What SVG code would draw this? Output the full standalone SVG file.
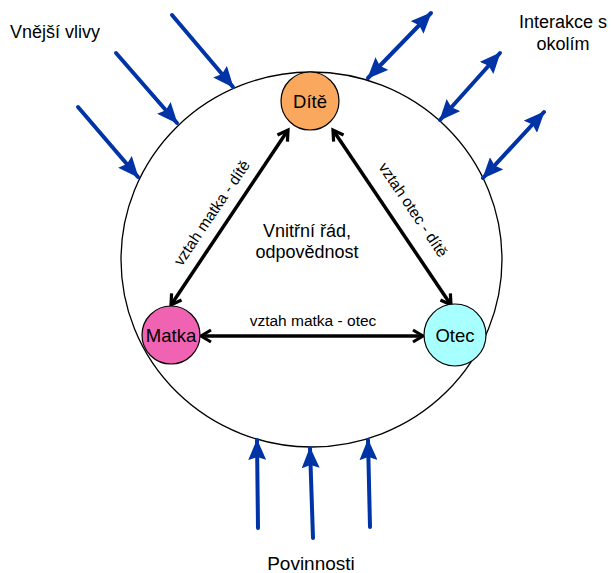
<svg xmlns="http://www.w3.org/2000/svg" width="611" height="573" viewBox="0 0 611 573">
<style>
text{font-family:"Liberation Sans",Arial,sans-serif;fill:#000}
.lbl{font-size:18px}
.rel{font-size:15.5px}
.node{font-size:18.5px}
.blk{stroke:#000;stroke-width:3.5;fill:none}
.blu{stroke:#0033A6;stroke-width:4;stroke-linecap:round;fill:none}
</style>
<defs>
<marker id="chev" markerUnits="userSpaceOnUse" markerWidth="16" markerHeight="16" viewBox="0 0 16 16" refX="13" refY="8" orient="auto-start-reverse">
<path d="M3,2 L13,8 L3,14" fill="none" stroke="#000" stroke-width="3.2" stroke-linejoin="miter"/>
</marker>
<marker id="tri" markerUnits="userSpaceOnUse" markerWidth="21" markerHeight="18" viewBox="0 0 21 18" refX="20" refY="9" orient="auto-start-reverse">
<path d="M0,0 L21,9 L0,18 L3,9 z" fill="#0033A6"/>
</marker>
</defs>
<rect width="611" height="573" fill="#fff"/>
<g id="family">
<ellipse cx="311.5" cy="259.5" rx="190.5" ry="187.5" fill="#fff" stroke="#000" stroke-width="1.3"/>
</g>
<g id="connectors">
<line class="blk" x1="288" y1="130" x2="171" y2="305" marker-start="url(#chev)" marker-end="url(#chev)"/>
<line class="blk" x1="333" y1="130" x2="451" y2="305" marker-start="url(#chev)" marker-end="url(#chev)"/>
<line class="blk" x1="201" y1="336" x2="423" y2="336" marker-start="url(#chev)" marker-end="url(#chev)"/>
<line class="blu" x1="172" y1="15" x2="233" y2="87" marker-end="url(#tri)"/>
<line class="blu" x1="116" y1="53" x2="177" y2="123" marker-end="url(#tri)"/>
<line class="blu" x1="78" y1="107" x2="138" y2="177" marker-end="url(#tri)"/>
<line class="blu" x1="368" y1="78" x2="431" y2="13" marker-start="url(#tri)" marker-end="url(#tri)"/>
<line class="blu" x1="440" y1="120" x2="500" y2="53" marker-start="url(#tri)" marker-end="url(#tri)"/>
<line class="blu" x1="483" y1="178" x2="544" y2="112" marker-start="url(#tri)" marker-end="url(#tri)"/>
<line class="blu" x1="258" y1="528" x2="257" y2="440" marker-end="url(#tri)"/>
<line class="blu" x1="313" y1="538" x2="310" y2="448" marker-end="url(#tri)"/>
<line class="blu" x1="370" y1="527" x2="368" y2="440" marker-end="url(#tri)"/>
</g>
<g id="dite">
<circle cx="310" cy="101" r="29" fill="#FAA85E" stroke="#000" stroke-width="1.2"/>
<text class="node" x="310" y="108" text-anchor="middle">Dítě</text>
</g>
<g id="matka">
<circle cx="171" cy="335" r="29" fill="#F062B2" stroke="#000" stroke-width="1.2"/>
<text class="node" x="171" y="342" text-anchor="middle">Matka</text>
</g>
<g id="otec">
<circle cx="455" cy="335" r="31" fill="#A8FFFF" stroke="#000" stroke-width="1.2"/>
<text class="node" x="455" y="342" text-anchor="middle">Otec</text>
</g>
<g id="labels">
<text class="lbl" x="10" y="38">Vnější vlivy</text>
<text class="lbl" x="563" y="28" text-anchor="middle">Interakce s</text>
<text class="lbl" x="563" y="50" text-anchor="middle">okolím</text>
<text class="lbl" style="font-size:19px" x="311" y="570" text-anchor="middle">Povinnosti</text>
<text class="lbl" x="307" y="237" text-anchor="middle">Vnitřní řád,</text>
<text class="lbl" x="307" y="258" text-anchor="middle">odpovědnost</text>
<text class="rel" x="313" y="326" text-anchor="middle">vztah matka - otec</text>
<text class="rel" transform="translate(212,213) rotate(-56)" x="0" y="5" text-anchor="middle">vztah matka - dítě</text>
<text class="rel" transform="translate(413,210) rotate(56)" x="0" y="5" text-anchor="middle">vztah otec - dítě</text>
</g>
</svg>
